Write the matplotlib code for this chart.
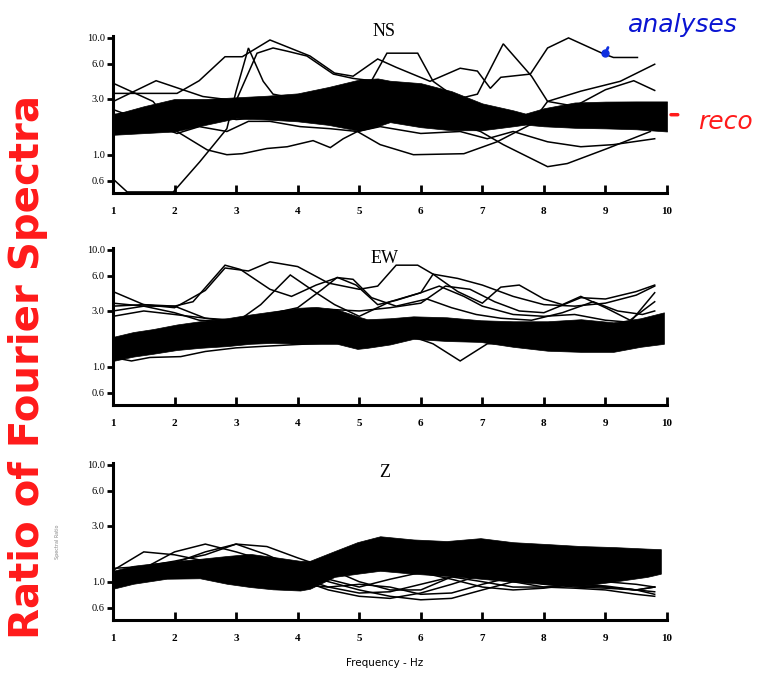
import matplotlib
matplotlib.use("Agg")
import matplotlib.pyplot as plt
from matplotlib.ticker import FixedLocator, NullLocator

# ---------------- data ----------------
x_ticks = [1, 2, 3, 4, 5, 6, 7, 8, 9, 10]
x_tick_labels = ["1", "2", "3", "4", "5", "6", "7", "8", "9", "10"]
y_ticks = [0.6, 1.0, 3.0, 6.0, 10.0]
y_tick_labels = ["0.6", "1.0", "3.0", "6.0", "10.0"]
panel_titles = ["NS", "EW", "Z"]

# recorded band (NS)
ns_band_f = [1, 1.5, 2, 2.5, 3, 3.5, 4, 4.5, 5, 5.3, 5.5, 6, 6.5, 7, 7.5, 7.7, 8, 8.5, 9, 9.5, 10]
ns_band_top = [2.2, 2.6, 3.0, 3.0, 3.1, 3.2, 3.35, 3.8, 4.4, 4.5, 4.3, 4.1, 3.5, 2.75, 2.4, 2.25, 2.5, 2.8, 2.85, 2.86, 2.86]
ns_band_bot = [1.48, 1.53, 1.58, 1.8, 2.05, 2.0, 1.93, 1.8, 1.6, 1.75, 1.9, 1.72, 1.62, 1.62, 1.75, 1.81, 1.75, 1.7, 1.68, 1.65, 1.58]

# analyses (NS)
ns_l1_f = [1, 1.23, 1.98, 2.41, 2.85, 3.0, 3.2, 3.44, 3.6, 4.0, 4.5, 5.0, 5.5, 6.0, 6.5, 7.0, 7.5, 8.0, 8.5, 9.0, 9.5, 10.0]
ns_l1_v = [0.62, 0.48, 0.48, 0.87, 1.67, 3.5, 8.2, 4.25, 3.3, 3.0, 3.2, 3.6, 3.3, 3.0, 2.7, 2.4, 2.2, 2.1, 2.3, 2.4, 2.3, 2.2]
ns_l2_f = [1, 1.65, 2.04, 2.53, 2.85, 3.1, 3.5, 3.83, 4.25, 4.53, 4.74, 4.97, 5.34, 5.88, 6.7, 7.24, 7.78, 8.06, 8.6, 9.24, 9.8]
ns_l2_v = [4.1, 2.86, 1.58, 1.1, 1.0, 1.02, 1.13, 1.17, 1.32, 1.15, 1.37, 1.58, 1.22, 1.0, 1.02, 1.29, 1.81, 2.86, 3.5, 4.25, 5.95]
ns_l3_f = [1, 1.5, 2.04, 2.4, 2.82, 3.1, 3.55, 4.2, 4.6, 4.9, 5.3, 5.6, 6.15, 6.64, 6.92, 7.13, 7.3, 7.78, 8.06, 8.4, 8.97, 9.13, 9.52]
ns_l3_v = [3.35, 3.35, 3.35, 4.3, 6.9, 6.9, 9.6, 7.0, 5.0, 4.7, 6.6, 5.6, 4.25, 5.5, 5.2, 3.7, 4.6, 4.9, 8.2, 10.0, 7.3, 6.8, 6.8]
ns_l4_f = [1, 1.7, 2.46, 3.0, 3.34, 3.6, 3.83, 4.15, 4.58, 4.9, 5.2, 5.45, 5.95, 6.2, 6.6, 6.92, 7.34, 7.8, 8.06, 8.5, 9.0, 9.46, 9.8]
ns_l4_v = [2.85, 4.3, 3.15, 2.9, 7.4, 8.2, 7.7, 7.0, 4.9, 4.5, 4.3, 7.4, 7.4, 4.25, 3.0, 3.3, 8.9, 4.7, 2.86, 2.6, 3.6, 4.3, 3.55]
ns_l5_f = [1, 2.04, 2.4, 2.85, 3.2, 3.55, 4.04, 4.53, 4.97, 5.34, 6.0, 6.64, 7.08, 7.5, 8.06, 8.6, 9.13, 9.8]
ns_l5_v = [2.44, 1.52, 1.74, 1.58, 1.93, 1.93, 1.74, 1.67, 1.58, 1.74, 1.52, 1.58, 1.37, 1.58, 1.29, 1.17, 1.22, 1.37]
ns_l6_f = [1, 1.5, 2, 2.5, 3, 3.5, 4, 4.5, 5, 5.5, 6, 6.5, 6.97, 7.34, 8.06, 8.38, 9.03, 9.73]
ns_l6_v = [2.2, 2.4, 2.6, 2.3, 2.0, 2.1, 2.5, 3.0, 3.3, 2.8, 2.2, 1.9, 1.58, 1.22, 0.79, 0.84, 1.13, 1.58]

# recorded band (EW)
ew_band_f = [1, 1.33, 1.65, 2.04, 2.41, 2.85, 3.23, 3.6, 4.04, 4.3, 4.64, 4.97, 5.13, 5.5, 5.88, 6.42, 6.97, 7.5, 8.06, 8.6, 9.13, 9.57, 9.95]
ew_band_top = [1.8, 1.98, 2.1, 2.3, 2.45, 2.6, 2.8, 2.98, 3.2, 3.25, 3.1, 2.7, 2.55, 2.6, 2.7, 2.65, 2.5, 2.45, 2.45, 2.55, 2.4, 2.6, 2.92]
ew_band_bot = [1.12, 1.22, 1.29, 1.39, 1.45, 1.5, 1.57, 1.6, 1.57, 1.57, 1.57, 1.42, 1.45, 1.55, 1.73, 1.66, 1.63, 1.48, 1.37, 1.34, 1.34, 1.48, 1.57]

# analyses (EW)
ew_l1_f = [1, 1.5, 2.0, 2.3, 2.82, 3.07, 3.55, 3.9, 4.3, 4.65, 4.95, 5.3, 5.6, 6.0, 6.3, 6.7, 7.0, 7.5, 8.0, 8.5, 9.0, 9.4, 9.8]
ew_l1_v = [4.4, 3.4, 3.3, 3.6, 7.4, 6.8, 4.6, 4.0, 5.0, 5.8, 5.0, 3.4, 3.7, 4.3, 4.9, 4.0, 3.3, 2.8, 2.7, 2.8, 2.5, 2.4, 4.3]
ew_l2_f = [1, 1.5, 2.0, 2.5, 2.82, 3.2, 3.55, 4.0, 4.5, 5.0, 5.3, 5.6, 5.95, 6.2, 6.6, 7.0, 7.5, 8.0, 8.5, 9.0, 9.5, 9.8]
ew_l2_v = [3.3, 3.4, 3.2, 4.5, 7.0, 6.6, 7.9, 7.2, 5.2, 4.6, 4.9, 7.4, 7.4, 6.2, 5.7, 5.0, 4.0, 3.4, 3.3, 3.5, 4.1, 4.9]
ew_l3_f = [1, 1.5, 2.0, 2.5, 3.0, 3.4, 3.88, 4.3, 4.6, 5.0, 5.5, 6.0, 6.2, 6.6, 7.0, 7.3, 7.6, 8.0, 8.3, 8.6, 9.0, 9.4, 9.8]
ew_l3_v = [3.0, 3.3, 3.3, 2.6, 2.4, 3.4, 6.1, 4.3, 3.4, 2.7, 3.6, 4.3, 6.2, 4.4, 3.5, 4.8, 5.0, 3.8, 3.4, 4.0, 3.2, 2.5, 3.6]
ew_l4_f = [1, 1.5, 2.0, 2.5, 3.0, 3.5, 4.0, 4.4, 4.64, 4.9, 5.2, 5.6, 6.1, 6.5, 6.9, 7.3, 7.8, 8.3, 8.8, 9.2, 9.6, 9.8]
ew_l4_v = [2.7, 3.0, 2.8, 2.6, 2.5, 2.8, 3.2, 4.6, 5.8, 5.6, 3.9, 3.3, 3.8, 3.2, 2.8, 2.6, 2.5, 2.9, 3.6, 3.0, 2.8, 3.0]
ew_l5_f = [1, 1.3, 1.6, 2.1, 2.5, 3.0, 3.5, 4.0, 4.5, 5.0, 5.5, 5.88, 6.2, 6.64, 7.08, 7.5, 8.0, 9.0, 9.8]
ew_l5_v = [1.2, 1.12, 1.2, 1.22, 1.35, 1.45, 1.5, 1.55, 1.6, 1.55, 1.65, 1.8, 1.57, 1.12, 1.57, 1.6, 1.6, 1.6, 1.7]
ew_l6_f = [1, 1.5, 2.0, 2.4, 3, 3.5, 4.0, 4.5, 5.0, 5.5, 6.0, 6.4, 6.8, 7.2, 7.6, 8.0, 8.6, 9.0, 9.5, 9.8]
ew_l6_v = [3.5, 3.3, 2.9, 2.5, 2.4, 2.7, 2.9, 3.1, 3.0, 3.2, 3.5, 4.9, 4.6, 3.6, 3.0, 2.9, 3.9, 3.8, 4.4, 5.0]

# recorded band (Z)
z_band_f = [1, 1.33, 1.87, 2.41, 2.85, 3.23, 3.6, 4.04, 4.2, 4.6, 4.97, 5.34, 5.88, 6.42, 6.97, 7.5, 8.06, 8.6, 9.13, 9.68, 9.9]
z_band_top = [1.24, 1.37, 1.48, 1.57, 1.66, 1.73, 1.63, 1.51, 1.51, 1.83, 2.18, 2.45, 2.3, 2.23, 2.36, 2.18, 2.1, 2.02, 1.98, 1.92, 1.9]
z_band_bot = [0.87, 0.96, 1.06, 1.07, 0.96, 0.9, 0.86, 0.84, 0.87, 1.1, 1.17, 1.24, 1.17, 1.12, 1.06, 1.0, 0.95, 0.92, 1.0, 1.1, 1.17]

# analyses (Z)
z_f = [1, 1.5, 2.0, 2.5, 3.0, 3.5, 4.0, 4.5, 5.0, 5.5, 6.0, 6.5, 7.0, 7.5, 8.0, 8.5, 9.0, 9.5, 9.8]
z_l1_v = [1.25, 1.8, 1.7, 1.5, 1.35, 1.2, 1.05, 0.85, 0.75, 0.72, 0.8, 0.95, 1.15, 1.0, 0.9, 0.88, 0.85, 0.78, 0.75]
z_l2_v = [1.15, 1.3, 1.8, 2.1, 1.8, 1.5, 1.2, 1.0, 0.85, 0.75, 0.7, 0.72, 0.85, 1.0, 1.1, 1.0, 0.9, 0.85, 0.9]
z_l3_v = [1.1, 1.3, 1.45, 1.8, 2.1, 1.7, 1.3, 1.05, 0.9, 1.05, 1.2, 1.05, 0.9, 0.85, 0.88, 0.95, 1.0, 0.95, 0.9]
z_l4_v = [1.3, 1.35, 1.5, 1.7, 2.1, 2.0, 1.6, 1.3, 1.0, 0.85, 0.85, 1.1, 1.25, 1.1, 0.95, 0.9, 0.88, 0.85, 0.82]
z_l5_v = [1.2, 1.25, 1.3, 1.35, 1.0, 0.95, 0.95, 0.9, 0.95, 0.9, 0.78, 0.8, 0.95, 1.1, 1.0, 0.92, 0.9, 0.85, 0.78]
z_l6_v = [1.0, 1.1, 1.15, 1.2, 1.25, 1.3, 1.1, 0.9, 0.8, 0.82, 0.95, 1.1, 1.0, 0.9, 0.9, 0.95, 0.92, 0.85, 0.9]

# ---------------- figure ----------------
fig = plt.figure(figsize=(7.58, 6.80), dpi=100)
left, width, height = 113 / 758, 554 / 758, 0.231
bottoms = [1 - 193 / 680, 1 - 405 / 680, 1 - 620 / 680]
axes = [fig.add_axes([left, b, width, height]) for b in bottoms]

panels = [
    (ns_band_f, ns_band_top, ns_band_bot,
     [(ns_l1_f, ns_l1_v), (ns_l2_f, ns_l2_v), (ns_l3_f, ns_l3_v),
      (ns_l4_f, ns_l4_v), (ns_l5_f, ns_l5_v), (ns_l6_f, ns_l6_v)]),
    (ew_band_f, ew_band_top, ew_band_bot,
     [(ew_l1_f, ew_l1_v), (ew_l2_f, ew_l2_v), (ew_l3_f, ew_l3_v),
      (ew_l4_f, ew_l4_v), (ew_l5_f, ew_l5_v), (ew_l6_f, ew_l6_v)]),
    (z_band_f, z_band_top, z_band_bot,
     [(z_f, z_l1_v), (z_f, z_l2_v), (z_f, z_l3_v),
      (z_f, z_l4_v), (z_f, z_l5_v), (z_f, z_l6_v)]),
]
title_y = [1.03, 0.935, 0.94]

for ax, (bf, bt, bb, lines), title, ty in zip(axes, panels, panel_titles, title_y):
    ax.set_yscale("log")
    ax.set_xlim(1, 10)
    ax.set_ylim(0.47, 10.4)
    for f, v in lines:
        ax.plot(f, v, color="black", lw=1.1, solid_joinstyle="miter")
    ax.fill_between(bf, bb, bt, color="black", lw=0.5, edgecolor="black")
    for s in ("top", "right"):
        ax.spines[s].set_visible(False)
    for s in ("left", "bottom"):
        ax.spines[s].set_linewidth(2.2)
    ax.yaxis.set_major_locator(FixedLocator(y_ticks))
    ax.yaxis.set_minor_locator(NullLocator())
    ax.set_yticklabels(y_tick_labels, fontfamily="Liberation Serif", fontsize=7.5)
    ax.set_xticks(x_ticks)
    ax.set_xticklabels(x_tick_labels, fontfamily="Liberation Serif", fontsize=8, fontweight="bold")
    ax.tick_params(axis="y", direction="out", length=4, width=2, pad=2)
    ax.tick_params(axis="x", direction="in", length=6, width=2, pad=10)
    ax.text(0.49, ty, title, transform=ax.transAxes, ha="center", va="center",
            fontfamily="Liberation Serif", fontsize=13)
    ax.patch.set_alpha(0)

# small axis label text in Z panel (faint in the scan)
axes[2].text(-0.1, 0.5, "Spectral Ratio", transform=axes[2].transAxes, rotation=90,
             ha="center", va="center", fontsize=3.5, color="#888888")

fig.text(385 / 758, 1 - 663 / 680, "Frequency - Hz", ha="center", va="center",
         fontsize=7.5, fontfamily="DejaVu Sans")

fig.text(28 / 758, 1 - 367 / 680, "Ratio of Fourier Spectra", rotation=90,
         ha="center", va="center", color="#ff1a1a", fontsize=29,
         fontweight="bold", fontfamily="DejaVu Sans")

fig.text(628 / 758, 1 - 25 / 680, "analyses", ha="left", va="center",
         color="#0a14d2", fontsize=18, style="italic", fontfamily="DejaVu Sans")
fig.text(698 / 758, 1 - 122 / 680, "reco", ha="left", va="center",
         color="#ff1a1a", fontsize=18, style="italic", fontfamily="DejaVu Sans")

# pointers
axes[0].annotate("", xy=(9.0, 7.4), xytext=(9.06, 8.7),
                 arrowprops=dict(arrowstyle="-", color="#1030e0", lw=2))
axes[0].plot([9.0], [7.4], "o", color="#1030e0", ms=5)
axes[0].annotate("", xy=(10.02, 2.2), xytext=(10.22, 2.2), annotation_clip=False,
                 arrowprops=dict(arrowstyle="-", color="#ff1a1a", lw=2.5))

fig.savefig("out.png", dpi=100)
